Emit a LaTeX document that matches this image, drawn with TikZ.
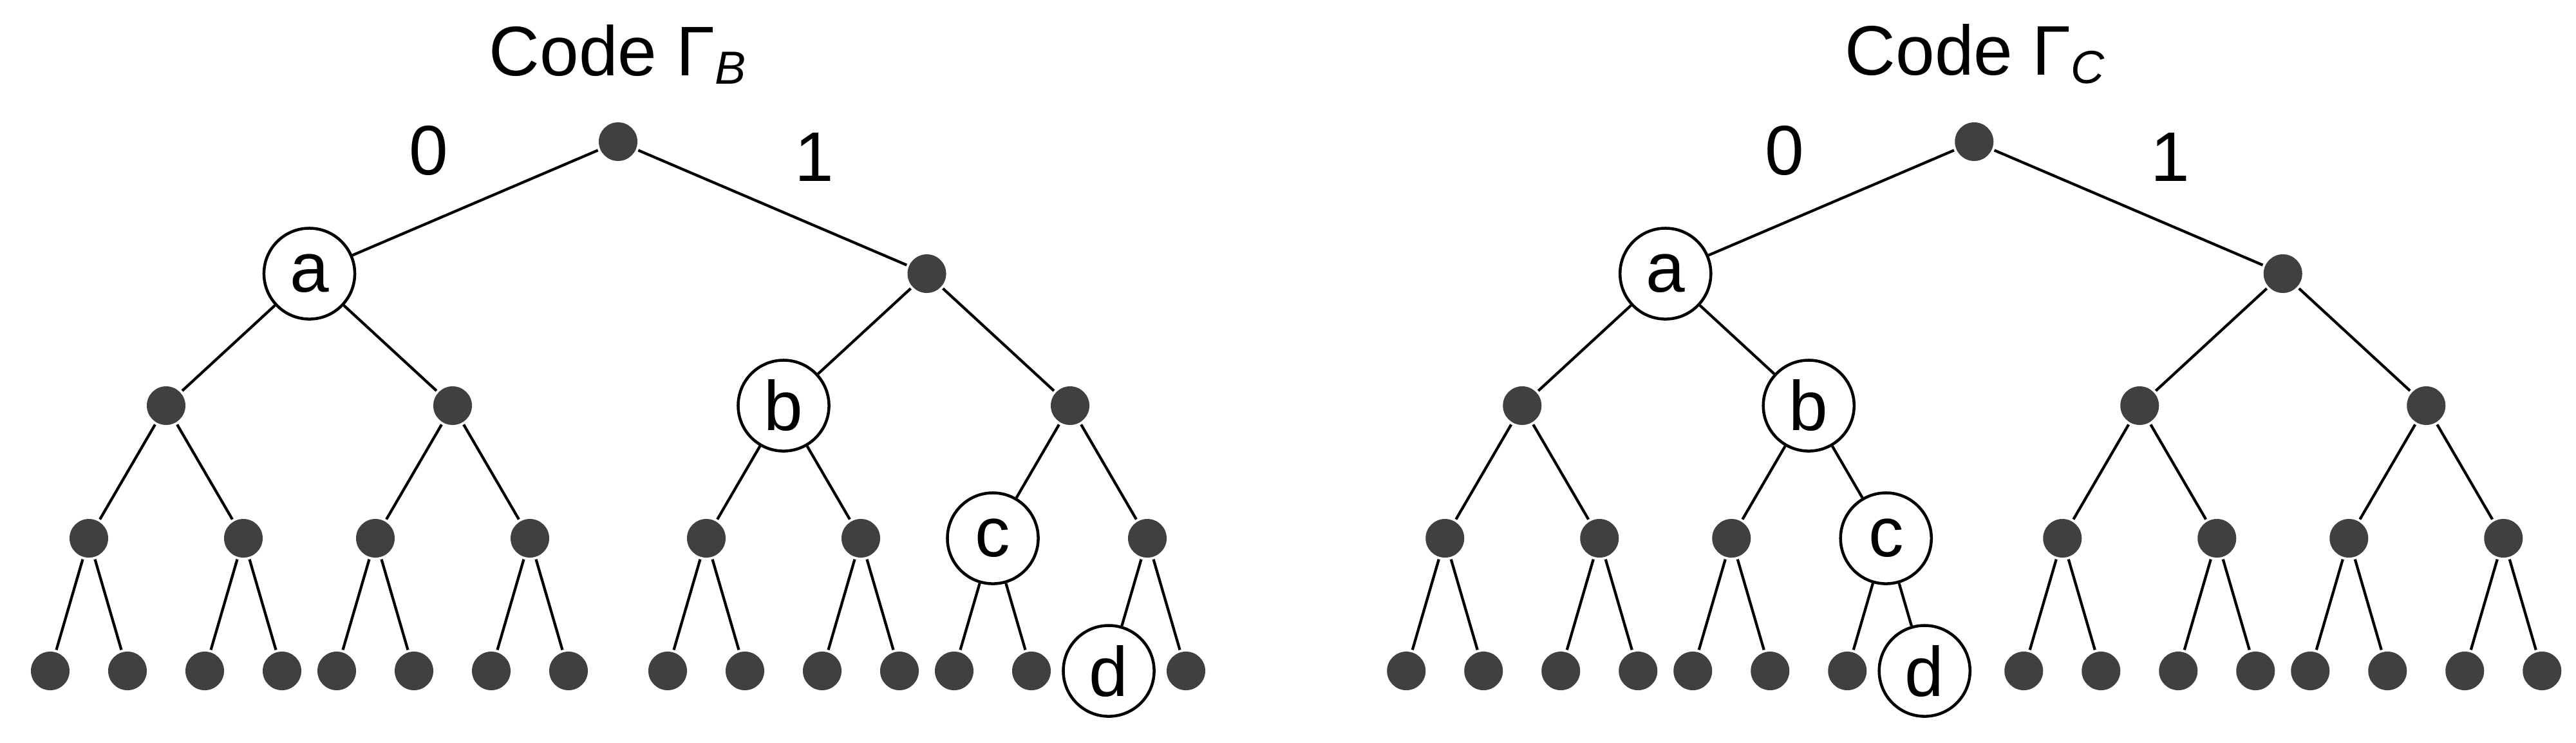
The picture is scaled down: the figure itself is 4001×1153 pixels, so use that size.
\documentclass[tikz,border=0pt]{standalone}
\usepackage{fontspec}
\setmainfont{Liberation Sans}
\definecolor{dotgray}{HTML}{404040}
\newcommand\lbl{\fontsize{31}{37}\selectfont}
\newcommand\subfnt{\fontsize{20.5}{24}\selectfont\itshape}
\begin{document}
\begin{tikzpicture}[x=0.01cm,y=-0.01cm,
  dot/.style={circle, fill=dotgray, minimum size=0.6cm, inner sep=0pt, outer sep=0.04cm},
  letter/.style={circle, draw, line width=0.045cm, minimum size=1.41cm, inner sep=0pt, font=\lbl},
  edge/.style={line width=0.042cm},
  digit/.style={font=\lbl, anchor=base, inner sep=0pt},
  title/.style={font=\lbl, anchor=base west, inner sep=0pt}]
\useasboundingbox (0,0) rectangle (4001,1153);

% ---------- left tree ----------
\node[title] (LT) at (759,117) {Code Γ\raisebox{-0.134cm}{\subfnt B}};
\node[digit] (Ld0) at (666,271.5) {0};
\node[digit] (Ld1) at (1265,281) {1};

\node[dot] (Lr) at (960,220) {};
\node[letter] (L0) at (480.5,425) {a};
\node[dot] (L1) at (1439.5,425) {};
\node[dot] (L00) at (258,630) {};
\node[dot] (L01) at (703,630) {};
\node[letter] (L10) at (1217,630) {b};
\node[dot] (L11) at (1662,630) {};
\node[dot] (L000) at (138,836) {};
\node[dot] (L001) at (378,836) {};
\node[dot] (L010) at (583,836) {};
\node[dot] (L011) at (823,836) {};
\node[dot] (L100) at (1097,836) {};
\node[dot] (L101) at (1337,836) {};
\node[letter] (L110) at (1542,836) {c};
\node[dot] (L111) at (1782,836) {};
\node[dot] (L0000) at (78,1042) {};
\node[dot] (L0001) at (198,1042) {};
\node[dot] (L0010) at (318,1042) {};
\node[dot] (L0011) at (438,1042) {};
\node[dot] (L0100) at (523,1042) {};
\node[dot] (L0101) at (643,1042) {};
\node[dot] (L0110) at (763,1042) {};
\node[dot] (L0111) at (883,1042) {};
\node[dot] (L1000) at (1037,1042) {};
\node[dot] (L1001) at (1157,1042) {};
\node[dot] (L1010) at (1277,1042) {};
\node[dot] (L1011) at (1397,1042) {};
\node[dot] (L1100) at (1482,1042) {};
\node[dot] (L1101) at (1602,1042) {};
\node[letter] (L1110) at (1722,1042) {d};
\node[dot] (L1111) at (1842,1042) {};

\draw[edge] (Lr) -- (L0);
\draw[edge] (Lr) -- (L1);
\foreach \p in {0,1,00,01,10,11,000,001,010,011,100,101,110,111} {
  \draw[edge] (L\p) -- (L\p0);
  \draw[edge] (L\p) -- (L\p1);
}

% ---------- right tree ----------
\begin{scope}[xshift=21.05cm]
\node[title] (RT) at (759,116) {Code Γ\raisebox{-0.134cm}{\subfnt C}};
\node[digit] (Rd0) at (666,271.5) {0};
\node[digit] (Rd1) at (1265,281) {1};

\node[dot] (Rr) at (960,220) {};
\node[letter] (R0) at (480.5,425) {a};
\node[dot] (R1) at (1439.5,425) {};
\node[dot] (R00) at (258,630) {};
\node[letter] (R01) at (703,630) {b};
\node[dot] (R10) at (1217,630) {};
\node[dot] (R11) at (1662,630) {};
\node[dot] (R000) at (138,836) {};
\node[dot] (R001) at (378,836) {};
\node[dot] (R010) at (583,836) {};
\node[letter] (R011) at (823,836) {c};
\node[dot] (R100) at (1097,836) {};
\node[dot] (R101) at (1337,836) {};
\node[dot] (R110) at (1542,836) {};
\node[dot] (R111) at (1782,836) {};
\node[dot] (R0000) at (78,1042) {};
\node[dot] (R0001) at (198,1042) {};
\node[dot] (R0010) at (318,1042) {};
\node[dot] (R0011) at (438,1042) {};
\node[dot] (R0100) at (523,1042) {};
\node[dot] (R0101) at (643,1042) {};
\node[dot] (R0110) at (763,1042) {};
\node[letter] (R0111) at (883,1042) {d};
\node[dot] (R1000) at (1037,1042) {};
\node[dot] (R1001) at (1157,1042) {};
\node[dot] (R1010) at (1277,1042) {};
\node[dot] (R1011) at (1397,1042) {};
\node[dot] (R1100) at (1482,1042) {};
\node[dot] (R1101) at (1602,1042) {};
\node[dot] (R1110) at (1722,1042) {};
\node[dot] (R1111) at (1842,1042) {};

\draw[edge] (Rr) -- (R0);
\draw[edge] (Rr) -- (R1);
\foreach \p in {0,1,00,01,10,11,000,001,010,011,100,101,110,111} {
  \draw[edge] (R\p) -- (R\p0);
  \draw[edge] (R\p) -- (R\p1);
}
\end{scope}
\end{tikzpicture}
\end{document}
